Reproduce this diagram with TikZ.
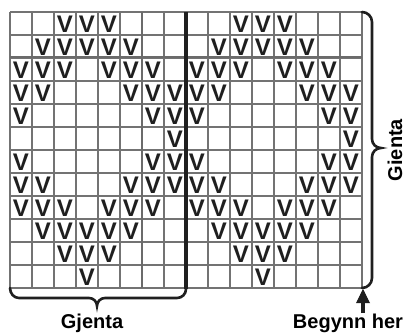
\documentclass[tikz,border=0pt]{standalone}
\usepackage{fontspec}
\setmainfont{Liberation Sans}
\usetikzlibrary{arrows.meta}
\begin{document}
\begin{tikzpicture}[x=1pt,y=-1pt,
 gridline/.style={draw=black!55, line width=1.1pt},
 majorline/.style={draw=black!58, line width=2.8pt},
 divider/.style={draw=black!88, line width=4.5pt},
 bracepath/.style={draw=black!88, line width=2.6pt, line cap=round},
 vmark/.style={font=\bfseries\fontsize{24}{24}\selectfont, text=black!88, inner sep=0pt},
 lbl/.style={font=\bfseries\fontsize{20}{24}\selectfont, inner sep=0pt},
 startarrow/.style={draw=black!88, line width=3.2pt, -{Triangle[length=14pt,width=13pt]}},
 headfill/.style={fill=black!88},
]
\useasboundingbox (0,0) rectangle (407,335);
% grid
\foreach \i in {0,...,16} \draw[gridline] ({10+22*\i},12) -- ({10+22*\i},288);
\foreach \j in {0,...,12} \draw[gridline] (10,{12+23*\j}) -- (362,{12+23*\j});
\draw[majorline] (142,12) -- (142,288);
\draw[majorline] (10,57) -- (362,57);
% marks
\foreach \r/\cols in {1/{3,4,5,11,12,13},2/{2,3,4,5,6,10,11,12,13,14},3/{1,2,3,5,6,7,9,10,11,13,14,15},4/{1,2,6,7,8,9,10,14,15,16},5/{1,7,8,9,15,16},6/{8,16},7/{1,7,8,9,15,16},8/{1,2,6,7,8,9,10,14,15,16},9/{1,2,3,5,6,7,9,10,11,13,14,15},10/{2,3,4,5,6,10,11,12,13,14},11/{3,4,5,11,12,13},12/{4,12}}{
  \foreach \c in \cols {\node[vmark] (v-\r-\c) at ({22*\c-1},{23*\r+0.8}) {V};}
}
% divider and braces
\draw[divider] (186,12) -- (186,289);
\draw[bracepath] (10,288) to[out=-90,in=180] (19,298) -- (89,298) to[out=0,in=90] (97,306) to[out=90,in=180] (105,298) -- (177,298) to[out=0,in=-90] (186,289);
\draw[bracepath] (362,12) to[out=0,in=90] (372,22) -- (372,139) to[out=-90,in=180] (381,148) to[out=180,in=90] (372,157) -- (372,278) to[out=-90,in=0] (362,288);
% labels
\node[lbl, anchor=base] (gj1) at (92,328) {Gjenta};
\node[lbl, anchor=base, rotate=90] (gj2) at (402,150) {Gienta};
\node[lbl, anchor=base] (begynn) at (348,328) {Begynn her};
\coordinate (astart) at (363,313);
\coordinate (aend) at (363,289);
\draw[startarrow] (astart) -- (aend);
\fill[headfill] (aend) -- ++(-6,13) -- ++(12,0) -- cycle;
\end{tikzpicture}
\end{document}
